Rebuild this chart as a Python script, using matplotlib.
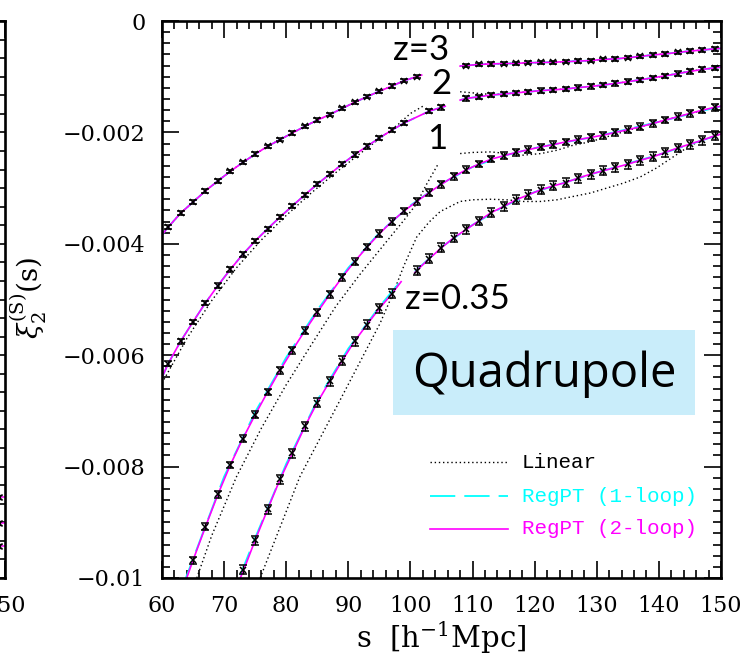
import matplotlib
matplotlib.use('Agg')
import numpy as np
import matplotlib.pyplot as plt
from matplotlib.patches import Rectangle
from matplotlib.ticker import MultipleLocator, FixedLocator, FixedFormatter

# ---- values (xi in units of 1e-3) ----
# simulation points (odd s), with error bars
s_z3a = [61, 63, 65, 67, 69, 71, 73, 75, 77, 79, 81, 83, 85, 87, 89, 91, 93, 95, 97, 99, 101]
d_z3a = [-3.70, -3.45, -3.25, -3.05, -2.87, -2.70, -2.54, -2.39, -2.25, -2.13, -2.01,
         -1.89, -1.78, -1.68, -1.57, -1.46, -1.36, -1.26, -1.17, -1.07, -1.00]
s_z3b = [109, 111, 113, 115, 117, 119, 121, 123, 125, 127, 129, 131, 133, 135, 137, 139,
         141, 143, 145, 147, 149]
d_z3b = [-0.80, -0.78, -0.77, -0.765, -0.76, -0.75, -0.745, -0.74, -0.73, -0.72, -0.71,
         -0.69, -0.68, -0.66, -0.635, -0.61, -0.59, -0.565, -0.54, -0.52, -0.50]

s_z2a = [61, 63, 65, 67, 69, 71, 73, 75, 77, 79, 81, 83, 85, 87, 89, 91, 93, 95, 97, 99, 103, 105]
d_z2a = [-6.15, -5.75, -5.40, -5.06, -4.75, -4.46, -4.19, -3.95, -3.73, -3.52, -3.32,
         -3.12, -2.93, -2.75, -2.57, -2.40, -2.25, -2.10, -1.96, -1.83, -1.62, -1.55]
s_z2b = s_z3b
d_z2b = [-1.39, -1.36, -1.33, -1.31, -1.29, -1.27, -1.25, -1.235, -1.22, -1.195, -1.175,
         -1.15, -1.12, -1.09, -1.055, -1.02, -0.985, -0.945, -0.905, -0.87, -0.84]

s_z1 = [65, 67, 69, 71, 73, 75, 77, 79, 81, 83, 85, 87, 89, 91, 93, 95, 97, 99, 101, 103,
        105, 107, 109, 111, 113, 115, 117, 119, 121, 123, 125, 127, 129, 131, 133, 135,
        137, 139, 141, 143, 145, 147, 149]
d_z1 = [-9.68, -9.08, -8.50, -7.97, -7.50, -7.07, -6.66, -6.27, -5.91, -5.56, -5.23,
        -4.91, -4.60, -4.32, -4.06, -3.82, -3.60, -3.41, -3.24, -3.08, -2.93, -2.79,
        -2.67, -2.57, -2.48, -2.42, -2.36, -2.31, -2.26, -2.22, -2.17, -2.13, -2.09,
        -2.05, -2.00, -1.95, -1.90, -1.84, -1.78, -1.72, -1.66, -1.60, -1.55]

s_z035a = [73, 75, 77, 79, 81, 83, 85, 87, 89, 91, 93, 95, 97]
d_z035a = [-9.85, -9.32, -8.77, -8.23, -7.76, -7.28, -6.85, -6.47, -6.10, -5.75, -5.45,
           -5.16, -4.90]
s_z035b = [101, 103, 105, 107, 109, 111, 113, 115, 117, 119, 121, 123, 125, 127, 129,
           131, 133, 135, 137, 139, 141, 143, 145, 147, 149]
d_z035b = [-4.48, -4.27, -4.07, -3.89, -3.74, -3.59, -3.44, -3.33, -3.21, -3.12, -3.03,
           -2.96, -2.90, -2.82, -2.75, -2.69, -2.63, -2.57, -2.50, -2.44, -2.36, -2.28,
           -2.21, -2.14, -2.06]

err_z3, err_z2, err_z1, err_z035 = 0.03, 0.04, 0.06, 0.08

# RegPT 2-loop curves (ends of each drawn piece added to the points above)
m_z3a_s = [60] + s_z3a + [101.8]
m_z3a = [-3.84] + d_z3a + [-0.97]
m_z3b_s = [108] + s_z3b + [150]
m_z3b = [-0.81] + d_z3b + [-0.49]
m_z2a_s = [60] + s_z2a + [105.6]
m_z2a = [-6.40] + d_z2a + [-1.53]
m_z2b_s = [108] + s_z2b + [150]
m_z2b = [-1.42] + d_z2b + [-0.83]
m_z1_s = [63.5] + s_z1 + [150]
m_z1 = [-10.15] + d_z1 + [-1.53]
m_z035a_s = [72.6, 73] + s_z035a[1:] + [98.5]
m_z035a = [-10.0, -9.90] + d_z035a[1:] + [-4.68]
m_z035b_s = [100.7] + s_z035b + [150]
m_z035b = [-4.52] + d_z035b + [-2.03]

# RegPT 1-loop (only separates from 2-loop at low z)
o_z1_s = [63.5, 70, 75, 80, 85, 90, 95, 100, 105, 110, 115, 120, 130, 140, 150]
o_z1 = [-10.10, -8.18, -7.02, -6.04, -5.19, -4.43, -3.80, -3.31, -2.92, -2.62, -2.42,
        -2.28, -2.07, -1.81, -1.53]
o_z035a_s = [72.6, 75, 80, 85, 90, 95, 98.5]
o_z035a = [-9.95, -9.28, -7.95, -6.81, -5.88, -5.13, -4.66]
o_z035b_s = [100.7, 105, 110, 115, 120, 130, 140, 150]
o_z035b = [-4.50, -4.06, -3.66, -3.33, -3.07, -2.72, -2.40, -2.03]

# linear theory
l_z3a_s, l_z3a = m_z3a_s, m_z3a
l_z3b_s, l_z3b = m_z3b_s, m_z3b
l_z2a_s = [60, 64, 68, 72, 76, 80, 84, 88, 92, 96, 98, 100, 102]
l_z2a = [-6.50, -5.70, -5.02, -4.43, -3.93, -3.49, -3.09, -2.72, -2.37, -2.03, -1.86,
         -1.66, -1.53]
l_z2b_s = [108, 110, 112, 114, 116, 120, 125, 130, 135, 140, 145, 150]
l_z2b = [-1.27, -1.29, -1.31, -1.315, -1.30, -1.26, -1.22, -1.165, -1.09, -1.005,
         -0.90, -0.83]
l_z1a_s = [65.6, 68, 72, 76, 80, 84, 88, 92, 96, 99, 101, 102.5, 104.5]
l_z1a = [-10.0, -9.24, -8.18, -7.31, -6.53, -5.82, -5.12, -4.53, -3.98, -3.57, -3.28,
         -2.95, -2.56]
l_z1b_s = [108, 110, 113, 115.5, 118, 121, 123.6, 126.2, 128.9, 131.6, 134.3, 137,
           140, 145, 150]
l_z1b = [-2.38, -2.36, -2.35, -2.38, -2.41, -2.38, -2.32, -2.23, -2.17, -2.08, -1.99,
         -1.90, -1.81, -1.66, -1.53]
l_z035_s = [75.8, 82.2, 88.7, 95.1, 97.2, 99, 101, 103, 104.8, 108, 110, 112.8, 115.5,
            118.2, 120.9, 123.6, 126.2, 128.9, 131.6, 134.3, 137, 139.6, 142.3, 145,
            147, 150]
l_z035 = [-10.0, -8.18, -6.80, -5.43, -4.89, -4.38, -3.88, -3.61, -3.42, -3.24, -3.21,
          -3.20, -3.21, -3.24, -3.24, -3.21, -3.15, -3.09, -3.00, -2.91, -2.80, -2.64,
          -2.44, -2.24, -2.14, -2.03]

# bits of the neighbouring panel that show at the left edge
nb_s = [146, 150]
nb_vals = [[-12.82, -12.82], [-13.52, -13.52], [-14.14, -14.14]]
nb_pts = [149, 149, 149]

ytick_vals = [-0.01, -0.008, -0.006, -0.004, -0.002, 0.0]
ytick_text = ['\u22120.01', '\u22120.008', '\u22120.006', '\u22120.004', '\u22120.002', '0']
xtick_vals = [60, 70, 80, 90, 100, 110, 120, 130, 140, 150]

E = 1e-3
W, H = 749, 664
L, R, T, B = 162, 721, 21, 578

fig = plt.figure(figsize=(W / 100, H / 100), dpi=100)
serif = 'DejaVu Serif'


def style_axes(a):
    for sp in a.spines.values():
        sp.set_linewidth(1.9)
    a.tick_params(which='both', direction='in', top=True, right=True, width=1.2)
    a.tick_params(which='major', length=12.5)
    a.tick_params(which='minor', length=5.5)


def px(x, y):
    """pixel of the picture -> axes fraction"""
    return (x - L) / (R - L), (B - y) / (B - T)


# neighbour panel, only its right edge is inside the picture
axl = fig.add_axes([(5 - (R - L)) / W, 1 - B / H, (R - L) / W, (B - T) / H])
axl.set_xlim(60, 150)
axl.set_ylim(-0.015, 0)
style_axes(axl)
axl.xaxis.set_major_locator(FixedLocator([150]))
axl.xaxis.set_minor_locator(MultipleLocator(2))
axl.yaxis.set_major_locator(MultipleLocator(0.005))
axl.yaxis.set_minor_locator(MultipleLocator(0.0005))
axl.set_yticklabels([])
axl.tick_params(axis='x', labelsize=16, pad=12)
for lab in axl.get_xticklabels():
    lab.set_fontfamily(serif)
for v, p in zip(nb_vals, nb_pts):
    axl.plot(nb_s, np.array(v) * E, color='magenta', lw=1.1)
    axl.errorbar([p], [v[0] * E], yerr=[0.05 * E], fmt='x', color='k', ms=4, mew=1,
                 capsize=2.5, elinewidth=1)

# main panel
ax = fig.add_axes([L / W, 1 - B / H, (R - L) / W, (B - T) / H])
ax.set_xlim(60, 150)
ax.set_ylim(-0.01, 0)
style_axes(ax)
ax.xaxis.set_major_locator(FixedLocator(xtick_vals))
ax.xaxis.set_minor_locator(MultipleLocator(2))
ax.yaxis.set_major_locator(FixedLocator(ytick_vals))
ax.yaxis.set_major_formatter(FixedFormatter(ytick_text))
ax.yaxis.set_minor_locator(MultipleLocator(0.0002))
ax.tick_params(axis='both', labelsize=16, pad=12)
for lab in ax.get_xticklabels() + ax.get_yticklabels():
    lab.set_fontfamily(serif)

dot = dict(color='black', lw=1.0, ls=(0, (1, 2)))
one = dict(color='cyan', lw=1.3, ls=(0, (14, 5)))
two = dict(color='magenta', lw=1.2)

for s, v in [(l_z3a_s, l_z3a), (l_z3b_s, l_z3b), (l_z2a_s, l_z2a), (l_z2b_s, l_z2b),
             (l_z1a_s, l_z1a), (l_z1b_s, l_z1b), (l_z035_s, l_z035)]:
    ax.plot(s, np.array(v) * E, **dot)

for s, v in [(m_z3a_s, m_z3a), (m_z3b_s, m_z3b), (m_z2a_s, m_z2a), (m_z2b_s, m_z2b),
             (o_z1_s, o_z1), (o_z035a_s, o_z035a), (o_z035b_s, o_z035b)]:
    ax.plot(s, np.array(v) * E, **one)

for s, v in [(m_z3a_s, m_z3a), (m_z3b_s, m_z3b), (m_z2a_s, m_z2a), (m_z2b_s, m_z2b),
             (m_z1_s, m_z1), (m_z035a_s, m_z035a), (m_z035b_s, m_z035b)]:
    ax.plot(s, np.array(v) * E, **two)

for s, v, e in [(s_z3a, d_z3a, err_z3), (s_z3b, d_z3b, err_z3), (s_z2a, d_z2a, err_z2),
                (s_z2b, d_z2b, err_z2), (s_z1, d_z1, err_z1),
                (s_z035a, d_z035a, err_z035), (s_z035b, d_z035b, err_z035)]:
    ax.errorbar(s, np.array(v) * E, yerr=e * E, fmt='x', color='k', ms=5, mew=1.1,
                elinewidth=1, capsize=3, capthick=1, zorder=5)

# redshift labels
lab_font = dict(family='Lato', fontsize=25, color='black', ha='center', va='center')
for txt, (x, y) in [('z=3', (421, 50)), ('2', (441, 84)), ('1', (437, 139)),
                    ('z=0.35', (457, 299))]:
    ax.text(*px(x, y), txt, transform=ax.transAxes, **lab_font)

# Quadrupole box
x0, y0 = px(393, 415)
x1, y1 = px(695, 330)
ax.add_patch(Rectangle((x0, y0), x1 - x0, y1 - y0, transform=ax.transAxes,
                       facecolor='#c9edfa', edgecolor='none', zorder=6))
ax.text(*px(544, 374), 'Quadrupole', transform=ax.transAxes, family='Open Sans',
        fontsize=34, ha='center', va='center', zorder=7)

# legend
mono = 'Liberation Mono'
for (st, label, col, yy) in [(dot, 'Linear', 'black', 462),
                             (one, 'RegPT (1-loop)', 'cyan', 496),
                             (two, 'RegPT (2-loop)', 'magenta', 529)]:
    xa, ya = px(430, yy)
    xb, _ = px(508, yy)
    ax.plot([xa, xb], [ya, ya], transform=ax.transAxes, **st)
    ax.text(px(522, yy)[0], ya, label, transform=ax.transAxes, family=mono,
            fontsize=15, color=col, ha='left', va='center')

# axis titles
fig.text(28 / W, 1 - 298 / H, r'$\xi_2^{(\mathrm{S})}(\mathrm{s})$', rotation=90,
         ha='center', va='center', fontsize=20, math_fontfamily='dejavuserif')
fig.text(441 / W, 1 - 638 / H, r'$\mathrm{s\ \ [h^{-1}Mpc]}$', ha='center',
         va='center', fontsize=21, math_fontfamily='dejavuserif')

fig.savefig('out.png', dpi=100)
